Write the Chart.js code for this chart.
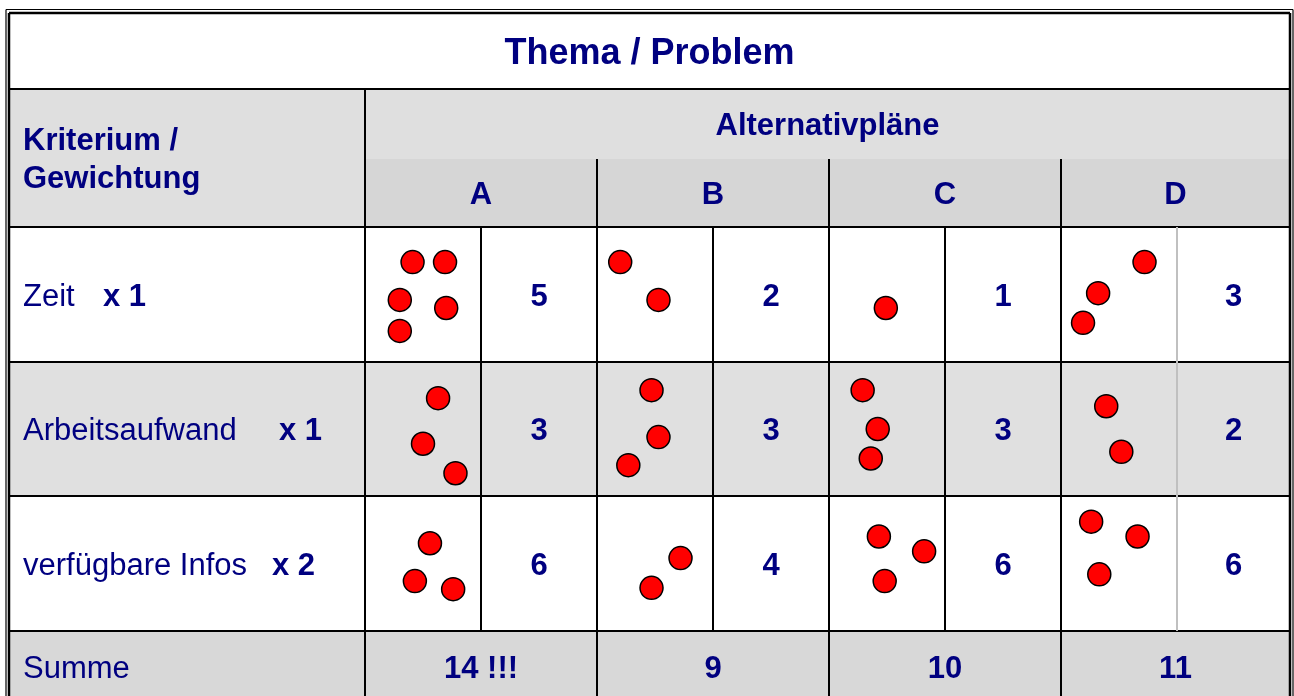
<!DOCTYPE html>
<html>
<head>
<meta charset="utf-8">
<script src="https://cdn.jsdelivr.net/npm/chart.js@4.4.1/dist/chart.umd.min.js"></script>
<style>
  html, body { margin: 0; padding: 0; background: #fff; }
  #wrap { width: 1294px; height: 696px; position: relative; }
</style>
</head>
<body>
<div id="wrap"><canvas id="chart"></canvas></div>
<script>
// table content
const title = 'Thema / Problem';
const headerLeft = ['Kriterium /', 'Gewichtung'];
const headerPlans = 'Alternativpläne';
const plans = ['A', 'B', 'C', 'D'];
const criteria = ['Zeit', 'Arbeitsaufwand', 'verfügbare Infos'];
const weights = [1, 1, 2];
const scoresZeit = [5, 2, 1, 3];
const scoresAufwand = [3, 3, 3, 2];
const scoresInfos = [6, 4, 6, 6];
const sums = [14, 9, 10, 11];
const sumLabel = 'Summe';

const scoreRows = [scoresZeit, scoresAufwand, scoresInfos];

// layout of the grid (in chart units = pixels, scales run 0..1294 / 0..696)
const colX = [9, 365, 481, 597, 713, 829, 945, 1061, 1177, 1290];
const rowY = [13, 89, 159, 227, 362, 496, 631, 702];
const weightX = [103, 279, 272];

// where the dots sit inside their cell (fractions of the cell)
const dotLayout = [
  [[[.41, .26], [.69, .26], [.30, .54], [.70, .60], [.30, .77]], [[.20, .26], [.53, .54]], [[.49, .60]], [[.72, .26], [.32, .49], [.19, .71]]],
  [[[.63, .27], [.50, .61], [.78, .83]], [[.47, .21], [.53, .56], [.27, .77]], [[.29, .21], [.42, .50], [.36, .72]], [[.39, .33], [.52, .67]]],
  [[[.56, .35], [.43, .63], [.76, .69]], [[.72, .46], [.47, .68]], [[.43, .30], [.82, .41], [.48, .63]], [[.26, .19], [.66, .30], [.33, .58]]]
];

const NAVY = '#000080';
const FONT = '"Liberation Sans", Arial, sans-serif';

// one dot per point scored (score / weight)
const datasets = plans.map((plan, p) => {
  const data = [];
  scoreRows.forEach((row, r) => {
    const n = row[p] / weights[r];
    const x0 = colX[1 + 2 * p], x1 = colX[2 + 2 * p];
    const y0 = rowY[3 + r], y1 = rowY[4 + r];
    dotLayout[r][p].slice(0, n).forEach(([fx, fy]) => {
      data.push({ x: x0 + fx * (x1 - x0), y: y0 + fy * (y1 - y0) });
    });
  });
  return {
    label: plan,
    data: data,
    pointRadius: 11.5,
    pointHoverRadius: 11.5,
    backgroundColor: '#FF0000',
    borderColor: '#000000',
    borderWidth: 1.5
  };
});

const tablePlugin = {
  id: 'tablePlugin',
  beforeDatasetsDraw(chart) {
    const ctx = chart.ctx;
    const sx = v => chart.scales.x.getPixelForValue(v);
    const sy = v => chart.scales.y.getPixelForValue(v);

    const fill = (x0, y0, x1, y1, c) => {
      ctx.fillStyle = c;
      ctx.fillRect(sx(x0), sy(y0), sx(x1) - sx(x0), sy(y1) - sy(y0));
    };
    const line = (x0, y0, x1, y1, c, w) => {
      ctx.beginPath();
      ctx.strokeStyle = c;
      ctx.lineWidth = w;
      ctx.moveTo(sx(x0), sy(y0));
      ctx.lineTo(sx(x1), sy(y1));
      ctx.stroke();
    };
    const text = (s, x, yMid, size, bold, align) => {
      ctx.font = (bold ? 'bold ' : '') + size + 'px ' + FONT;
      ctx.fillStyle = NAVY;
      ctx.textAlign = align || 'center';
      ctx.textBaseline = 'alphabetic';
      ctx.fillText(s, sx(x), sy(yMid) + size * 0.358);
    };

    ctx.save();
    const L = colX[0], R = colX[colX.length - 1];

    // backgrounds
    fill(L, rowY[0], R, rowY[1], '#FFFFFF');
    fill(L, rowY[1], colX[1], rowY[3], '#DFDFDF');
    fill(colX[1], rowY[1], R, rowY[2], '#DFDFDF');
    fill(colX[1], rowY[2], R, rowY[3], '#D6D6D6');
    fill(L, rowY[3], R, rowY[4], '#FFFFFF');
    fill(L, rowY[4], R, rowY[5], '#E0E0E0');
    fill(L, rowY[5], R, rowY[6], '#FFFFFF');
    fill(L, rowY[6], R, rowY[7], '#D8D8D8');

    // grid lines
    [1, 3, 4, 5, 6].forEach(i => line(L, rowY[i], R, rowY[i], '#000', 2));
    line(colX[1], rowY[1], colX[1], rowY[7], '#000', 2);
    [3, 5, 7].forEach(i => line(colX[i], rowY[2], colX[i], rowY[7], '#000', 2));
    [2, 4, 6].forEach(i => line(colX[i], rowY[3], colX[i], rowY[6], '#000', 2));
    line(colX[8], rowY[3], colX[8], rowY[6], '#C0C0C0', 2);

    // double outer border
    line(L, rowY[0], R, rowY[0], '#000', 2.5);
    line(L, rowY[0], L, 700, '#000', 2.5);
    line(R, rowY[0], R, 700, '#000', 2.5);
    line(L - 3, rowY[0] - 3.5, R + 3, rowY[0] - 3.5, '#000', 1.2);
    line(L - 3, rowY[0] - 3.5, L - 3, 700, '#000', 1.2);
    line(R + 3, rowY[0] - 3.5, R + 3, 700, '#000', 1.2);

    // texts
    text(title, (L + R) / 2, (rowY[0] + rowY[1]) / 2, 36, true);
    text(headerLeft[0], 23, 139, 31, true, 'left');
    text(headerLeft[1], 23, 177, 31, true, 'left');
    text(headerPlans, (colX[1] + R) / 2, (rowY[1] + rowY[2]) / 2, 31, true);
    plans.forEach((p, i) => {
      text(p, (colX[1 + 2 * i] + colX[3 + 2 * i]) / 2, (rowY[2] + rowY[3]) / 2, 31, true);
    });

    criteria.forEach((c, r) => {
      const yMid = (rowY[3 + r] + rowY[4 + r]) / 2;
      text(c, 23, yMid, 31, false, 'left');
      text('x ' + weights[r], weightX[r], yMid, 31, true, 'left');
      scoreRows[r].forEach((s, p) => {
        text(String(s), (colX[2 + 2 * p] + colX[3 + 2 * p]) / 2, yMid, 31, true);
      });
    });

    const best = Math.max(...sums);
    const yS = (rowY[6] + rowY[7]) / 2;
    text(sumLabel, 23, yS, 31, false, 'left');
    sums.forEach((s, p) => {
      text(s === best ? s + ' !!!' : String(s), (colX[1 + 2 * p] + colX[3 + 2 * p]) / 2, yS, 31, true);
    });
    ctx.restore();
  }
};

new Chart(document.getElementById('chart'), {
  type: 'scatter',
  data: { datasets: datasets },
  options: {
    animation: false,
    responsive: true,
    maintainAspectRatio: false,
    layout: { padding: 0, autoPadding: false },
    plugins: {
      legend: { display: false },
      tooltip: { enabled: false }
    },
    scales: {
      x: { type: 'linear', min: 0, max: 1294, display: false },
      y: { type: 'linear', min: 0, max: 696, reverse: true, display: false }
    }
  },
  plugins: [tablePlugin]
});
</script>
</body>
</html>
